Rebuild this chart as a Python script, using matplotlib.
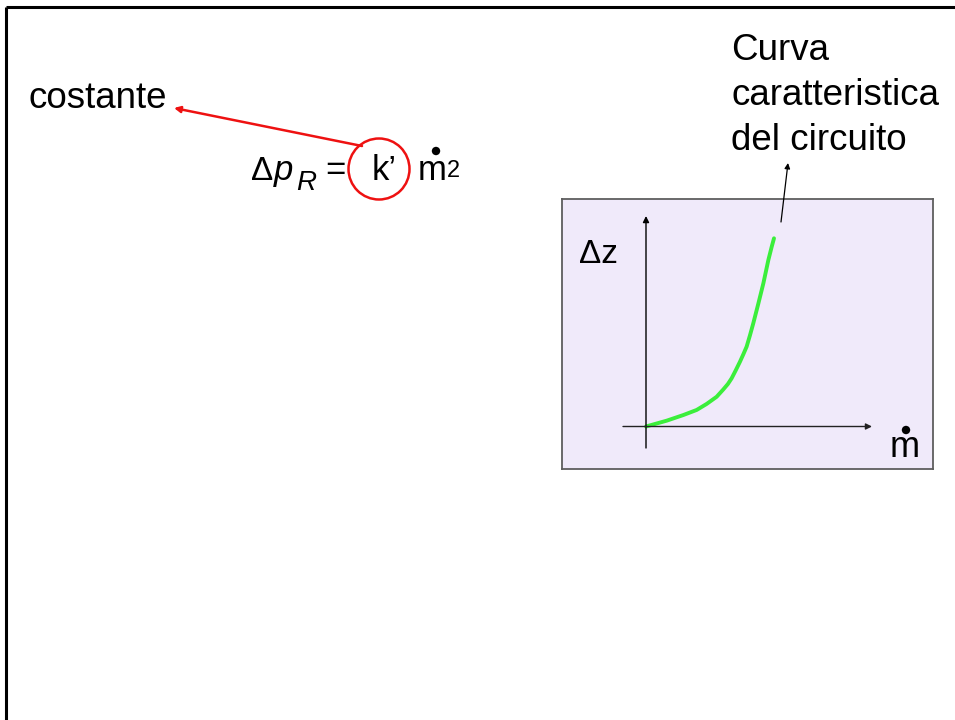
import matplotlib
matplotlib.use("Agg")
import matplotlib.pyplot as plt
from matplotlib.patches import Circle
from matplotlib.lines import Line2D

plt.rcParams['font.family'] = ['Liberation Sans', 'DejaVu Sans']

# characteristic curve of the circuit (normalised mass flow vs head)
m_flow = [0.0, 0.162, 0.292, 0.396, 0.474, 0.552, 0.604, 0.640, 0.669, 0.700, 0.734,
          0.760, 0.786, 0.812, 0.838, 0.878, 0.917, 0.956, 0.982, 1.0]
dz = [0.0, 0.031, 0.061, 0.088, 0.120, 0.158, 0.197, 0.226, 0.256, 0.297, 0.344,
      0.383, 0.424, 0.484, 0.548, 0.654, 0.761, 0.885, 0.955, 1.0]

W, H = 955, 720
fig = plt.figure(figsize=(W / 100, H / 100), dpi=100)

# inset chart
x0, x1, y0, y1 = 562, 933, 199, 469
ax = fig.add_axes([x0 / W, 1 - y1 / H, (x1 - x0) / W, (y1 - y0) / H])
ax.set_facecolor('#f0eafa')
for s in ax.spines.values():
    s.set_color('#5e5e5e')
    s.set_linewidth(1.3)
ax.set_xticks([])
ax.set_yticks([])
sx, sy = 128.0, 188.2
ox, oy = 646, 426.5
ax.set_xlim((x0 - ox) / sx, (x1 - ox) / sx)
ax.set_ylim((oy - y1) / sy, (oy - y0) / sy)

ax.annotate("", xy=(0, (oy - 216) / sy), xytext=(0, (oy - 448) / sy),
            arrowprops=dict(arrowstyle='-|>', color='black', lw=1.0,
                            mutation_scale=9, shrinkA=0, shrinkB=0))
ax.annotate("", xy=((872 - ox) / sx, 0), xytext=((623 - ox) / sx, 0),
            arrowprops=dict(arrowstyle='-|>', color='#222222', lw=1.0,
                            mutation_scale=9, shrinkA=0, shrinkB=0))
ax.plot(m_flow, dz, color='#3bee3b', lw=2.8, solid_capstyle='round',
        solid_joinstyle='round')

ax.text((579 - ox) / sx, (oy - 263) / sy, "\u0394z", fontsize=24, ha='left', va='baseline')
ax.text((890 - ox) / sx, (oy - 457) / sy, "m", fontsize=26, ha='left', va='baseline')

# overlay axes in pixel coordinates for the slide annotations
ov = fig.add_axes([0, 0, 1, 1])
ov.set_xlim(0, W)
ov.set_ylim(H, 0)
ov.axis('off')

# slide border (top and left)
ov.add_line(Line2D([6, W], [7, 7], color='black', lw=2.2, solid_capstyle='butt'))
ov.add_line(Line2D([6, 6], [7, H], color='black', lw=2.2, solid_capstyle='butt'))

fs = 26.5
ov.text(28, 108, "costante", fontsize=fs, ha='left', va='baseline')
ov.text(731, 60, "Curva", fontsize=fs, ha='left', va='baseline')
ov.text(731, 105, "caratteristica", fontsize=fs, ha='left', va='baseline')
ov.text(731, 150, "del circuito", fontsize=fs, ha='left', va='baseline')

# formula  Δp_R = k' ṁ²
ffs = 25
ov.text(251, 180, "\u0394", fontsize=24, ha='left', va='baseline')
ov.text(274, 180, "p", fontsize=ffs, style='italic', ha='left', va='baseline')
ov.text(296, 190, "R", fontsize=20, style='italic', ha='left', va='baseline')
ov.text(325, 180, "=", fontsize=ffs, ha='left', va='baseline')
ov.text(372, 180, "k\u2019", fontsize=ffs, ha='left', va='baseline')
ov.text(418, 180, "m", fontsize=ffs, ha='left', va='baseline')
ov.text(447, 177, "2", fontsize=17, ha='left', va='baseline')
ov.add_patch(Circle((436, 151), 4.2, color='black', lw=0))
ov.add_patch(Circle((906, 430), 4.2, color='black', lw=0))

ov.add_patch(Circle((379, 169), 30.5, fill=False, edgecolor='#ee1111', lw=1.8))
ov.annotate("", xy=(174, 108), xytext=(362, 146),
            arrowprops=dict(arrowstyle='-|>', color='#ee1111', lw=1.8,
                            mutation_scale=9, shrinkA=0, shrinkB=0))

# arrow from label to curve
ov.annotate("", xy=(788, 163), xytext=(781, 222),
            arrowprops=dict(arrowstyle='-|>', color='black', lw=0.9,
                            mutation_scale=8, shrinkA=0, shrinkB=0))

fig.savefig("out.png", dpi=100)
